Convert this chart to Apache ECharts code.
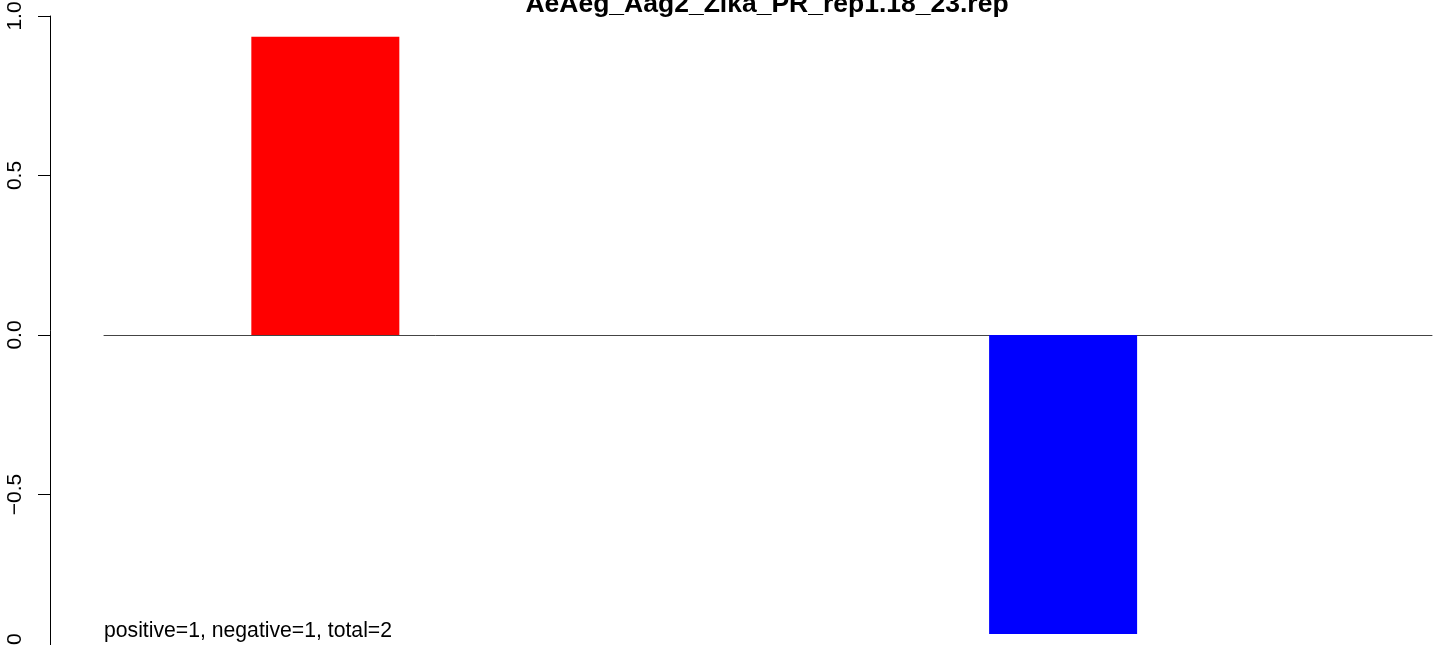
<!DOCTYPE html>
<html>
<head>
<meta charset="utf-8">
<script src="https://cdn.jsdelivr.net/npm/echarts@6/dist/echarts.min.js"></script>
<style>
html,body{margin:0;padding:0;background:#fff;}
#chart{width:1444px;height:645px;}
</style>
</head>
<body>
<div id="chart"></div>
<script>
// ---- data ----
const titleText = 'AeAeg_Aag2_Zika_PR_rep1.18_23.rep';
const categories = ['positive', 'negative'];
const values = [0.935, -0.937];
const barSlots = [1.5, 6.5];          // bar centres in x-axis units
const yTicks = [-1, -0.5, 0, 0.5, 1];

const positive = values.filter(v => v > 0).length;
const negative = values.filter(v => v < 0).length;
const total = values.length;
const noteText = 'positive=' + positive + ', negative=' + negative + ', total=' + total;

const FONT = "'Liberation Sans', Arial, Helvetica, sans-serif";
const chart = echarts.init(document.getElementById('chart'), null, {renderer: 'canvas'});

chart.setOption({
  animation: false,
  backgroundColor: '#ffffff',
  title: {
    text: titleText,
    left: 767,
    top: -9,
    textAlign: 'center',
    padding: 0,
    textStyle: {fontFamily: FONT, fontSize: 26.5, fontWeight: 'bold', color: '#000'}
  },
  grid: {left: 104, right: 12, top: 16, bottom: -9, containLabel: false, outerBoundsMode: 'none'},
  xAxis: {
    type: 'value',
    min: 0,
    max: 9,
    axisLine: {show: true, onZero: true, lineStyle: {color: '#444', width: 1}},
    axisTick: {show: false},
    axisLabel: {show: false},
    splitLine: {show: false}
  },
  yAxis: {
    type: 'value',
    min: yTicks[0],
    max: yTicks[yTicks.length - 1],
    interval: 0.5,
    offset: 54,
    axisLine: {show: true, onZero: false, lineStyle: {color: '#000', width: 1}},
    axisTick: {show: true, length: 12, lineStyle: {color: '#000', width: 1}},
    axisLabel: {
      show: true,
      rotate: 90,
      margin: 24,
      fontFamily: FONT,
      fontSize: 21,
      color: '#000',
      formatter: v => (v < 0 ? '\u2212' : '') + Math.abs(v).toFixed(1)
    },
    splitLine: {show: false}
  },
  series: [{
    type: 'bar',
    barWidth: 148,
    data: values.map((v, i) => ({name: categories[i], value: [barSlots[i], v]})),
    itemStyle: {color: p => (p.value[1] >= 0 ? '#ff0000' : '#0000ff')}
  }],
  graphic: [{
    type: 'text',
    left: 104,
    top: 621,
    style: {text: noteText, font: '21.2px ' + FONT, fill: '#000'}
  }]
});
</script>
</body>
</html>
